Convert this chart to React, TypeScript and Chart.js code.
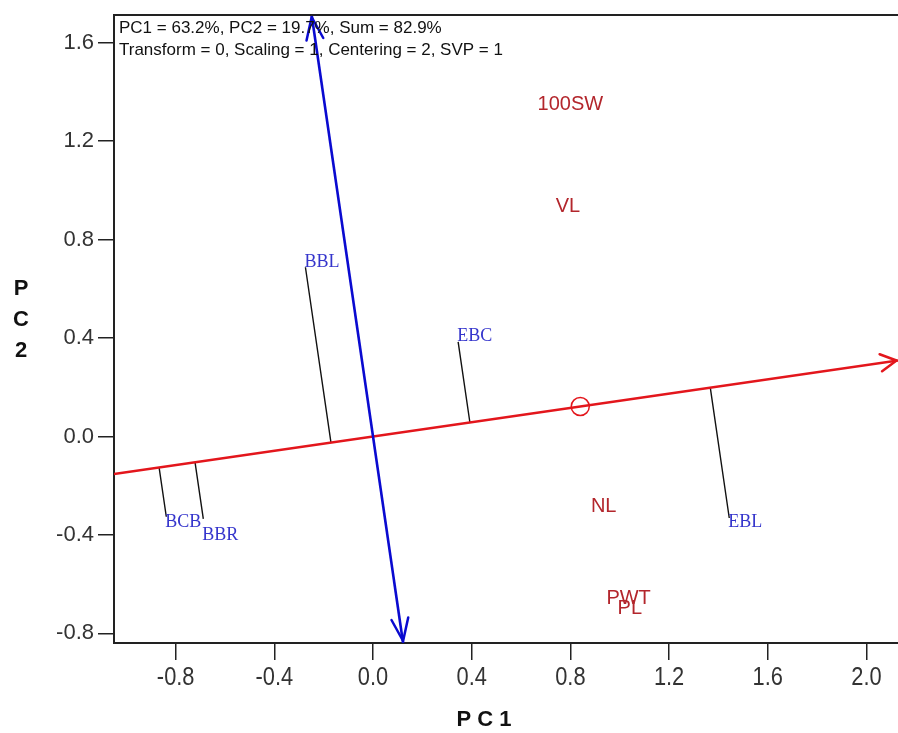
import React, { useEffect, useRef } from 'react';
import { Chart, registerables } from 'chart.js';

Chart.register(...registerables);

// ---------- data ----------
const traitNames = ['100SW', 'VL', 'NL', 'PWT', 'PL'];
const traitPC1 = [0.8, 0.79, 0.935, 1.036, 1.041];
const traitPC2 = [1.351, 0.933, -0.283, -0.657, -0.698];

const envNames = ['BBL', 'EBC', 'BCB', 'BBR', 'EBL'];
const envPC1 = [-0.274, 0.345, -0.838, -0.688, 1.444];
const envPC2 = [0.688, 0.385, -0.326, -0.335, -0.331];

// average-environment coordinate (small circle on the ATC axis)
const avgPC1 = 0.84;
const avgPC2 = 0.122;

const xTicks = [-0.8, -0.4, 0, 0.4, 0.8, 1.2, 1.6, 2.0];
const xTickLabels = ['-0.8', '-0.4', '0.0', '0.4', '0.8', '1.2', '1.6', '2.0'];
const yTicks = [-0.8, -0.4, 0, 0.4, 0.8, 1.2, 1.6];
const yTickLabels = ['-0.8', '-0.4', '0.0', '0.4', '0.8', '1.2', '1.6'];

const xAxisTitle = 'P C 1';
const yAxisTitle = ['P', 'C', '2'];
const infoLines = [
  'PC1 = 63.2%, PC2 = 19.7%, Sum = 82.9%',
  'Transform = 0, Scaling = 1, Centering = 2, SVP = 1',
];

// ---------- layout / style ----------
const X_MIN = -1.05;
const X_MAX = 2.128;
const Y_MIN = -0.839;
const Y_MAX = 1.713;
const W = 898;
const H = 733;

const RED = '#e3161c';
const BLUE = '#0a0ad0';
const TRAIT_COLOR = '#b3262c';
const ENV_COLOR = '#3535cc';
const envLabelDy = [-5, -6, 6, 16, 4];

function drawArrowHead(ctx: CanvasRenderingContext2D, tipX: number, tipY: number, dirX: number, dirY: number, len: number, angle: number, color: string) {
  const n = Math.hypot(dirX, dirY);
  const ux = dirX / n;
  const uy = dirY / n;
  ctx.save();
  ctx.strokeStyle = color;
  ctx.lineWidth = 2.5;
  ctx.lineCap = 'round';
  ctx.beginPath();
  for (const s of [-1, 1]) {
    const a = s * angle;
    const bx = -ux * Math.cos(a) + uy * Math.sin(a);
    const by = -uy * Math.cos(a) - ux * Math.sin(a);
    ctx.moveTo(tipX, tipY);
    ctx.lineTo(tipX + bx * len, tipY + by * len);
  }
  ctx.stroke();
  ctx.restore();
}

const overlayPlugin = {
  id: 'gge-overlay',
  afterDatasetsDraw(chart: any) {
    const ctx: CanvasRenderingContext2D = chart.ctx;
    const xs = chart.scales.x;
    const ys = chart.scales.y;
    const area = chart.chartArea;

    // top border
    ctx.save();
    ctx.strokeStyle = '#222';
    ctx.lineWidth = 2;
    ctx.beginPath();
    ctx.moveTo(area.left - 1, area.top);
    ctx.lineTo(area.right, area.top);
    ctx.stroke();
    ctx.restore();

    // arrowheads
    const slope = avgPC2 / avgPC1;
    const rx0 = xs.getPixelForValue(X_MIN);
    const ry0 = ys.getPixelForValue(slope * X_MIN);
    const rx1 = xs.getPixelForValue(X_MAX) - 1.5;
    const ry1 = ys.getPixelForValue(slope * X_MAX);
    drawArrowHead(ctx, rx1, ry1, rx1 - rx0, ry1 - ry0, 18, 0.5, RED);

    const k = -avgPC2 / avgPC1;
    const bxTop = xs.getPixelForValue(k * Y_MAX);
    const byTop = ys.getPixelForValue(Y_MAX);
    const bxBot = xs.getPixelForValue(k * Y_MIN);
    const byBot = ys.getPixelForValue(Y_MIN);
    drawArrowHead(ctx, bxTop, byTop + 2, bxTop - bxBot, byTop - byBot, 24, 0.36, BLUE);
    drawArrowHead(ctx, bxBot, byBot - 2, bxBot - bxTop, byBot - byTop, 24, 0.36, BLUE);

    // trait labels
    ctx.save();
    ctx.fillStyle = TRAIT_COLOR;
    ctx.font = '20px "Liberation Sans", Arial, sans-serif';
    ctx.textAlign = 'center';
    ctx.textBaseline = 'middle';
    traitNames.forEach((name, i) => {
      ctx.fillText(name, xs.getPixelForValue(traitPC1[i]), ys.getPixelForValue(traitPC2[i]));
    });
    ctx.restore();

    // environment labels
    ctx.save();
    ctx.fillStyle = ENV_COLOR;
    ctx.font = '18px "Liberation Serif", "Times New Roman", serif';
    ctx.textAlign = 'left';
    ctx.textBaseline = 'middle';
    envNames.forEach((name, i) => {
      ctx.fillText(name, xs.getPixelForValue(envPC1[i]) - 1, ys.getPixelForValue(envPC2[i]) + envLabelDy[i]);
    });
    ctx.restore();

    // info text
    ctx.save();
    ctx.fillStyle = '#111';
    ctx.font = '17px "Liberation Sans", Arial, sans-serif';
    ctx.textAlign = 'left';
    ctx.textBaseline = 'middle';
    infoLines.forEach((t, i) => ctx.fillText(t, area.left + 5, area.top + 13 + i * 22));
    ctx.restore();
  },
  afterDraw(chart: any) {
    const ctx: CanvasRenderingContext2D = chart.ctx;
    const area = chart.chartArea;
    const xs = chart.scales.x;

    // x tick labels (condensed)
    ctx.save();
    ctx.fillStyle = '#333';
    ctx.font = '26px "Liberation Sans", Arial, sans-serif';
    ctx.textAlign = 'center';
    ctx.textBaseline = 'middle';
    xTicks.forEach((v, i) => {
      const px = xs.getPixelForValue(v);
      ctx.save();
      ctx.translate(px, area.bottom + 35);
      ctx.scale(0.84, 1);
      ctx.fillText(xTickLabels[i], 0, 0);
      ctx.restore();
    });
    ctx.restore();

    // axis titles
    ctx.save();
    ctx.fillStyle = '#111';
    ctx.font = 'bold 22px "Liberation Sans", Arial, sans-serif';
    ctx.textAlign = 'center';
    ctx.textBaseline = 'middle';
    ctx.fillText(xAxisTitle, (area.left + area.right) / 2 - 22, 720);
    yAxisTitle.forEach((t, i) => ctx.fillText(t, 21, 289 + i * 31));
    ctx.restore();
  },
};

export default function App() {
  const canvasRef = useRef<HTMLCanvasElement | null>(null);

  useEffect(() => {
    const canvas = canvasRef.current;
    if (!canvas) return;

    const slope = avgPC2 / avgPC1;
    const k = -avgPC2 / avgPC1;
    const dd = avgPC1 * avgPC1 + avgPC2 * avgPC2;

    const projections: any[] = [];
    envPC1.forEach((x, i) => {
      const y = envPC2[i];
      const t = (x * avgPC1 + y * avgPC2) / dd;
      projections.push({ x, y });
      projections.push({ x: t * avgPC1, y: t * avgPC2 });
      projections.push({ x: null, y: null });
    });

    const tickFontY = { family: '"Liberation Sans", Arial, sans-serif', size: 22 };

    const chart = new Chart(canvas, {
      type: 'scatter',
      data: {
        datasets: [
          {
            label: 'avg',
            data: [{ x: avgPC1, y: avgPC2 }],
            pointRadius: 9,
            pointBorderWidth: 1.5,
            pointBorderColor: RED,
            pointBackgroundColor: 'rgba(0,0,0,0)',
            showLine: false,
          },
          {
            label: 'ATC ordinate',
            data: [
              { x: k * Y_MIN, y: Y_MIN },
              { x: k * Y_MAX, y: Y_MAX },
            ],
            showLine: true,
            borderColor: BLUE,
            borderWidth: 2.6,
            pointRadius: 0,
          },
          {
            label: 'ATC abscissa',
            data: [
              { x: X_MIN, y: slope * X_MIN },
              { x: X_MAX, y: slope * X_MAX },
            ],
            showLine: true,
            borderColor: RED,
            borderWidth: 2.6,
            pointRadius: 0,
          },
          {
            label: 'projections',
            data: projections,
            showLine: true,
            spanGaps: false,
            borderColor: '#111',
            borderWidth: 1.4,
            pointRadius: 0,
          },
          {
            label: 'traits',
            data: traitPC1.map((x, i) => ({ x, y: traitPC2[i] })),
            pointRadius: 0,
          },
          {
            label: 'envs',
            data: envPC1.map((x, i) => ({ x, y: envPC2[i] })),
            pointRadius: 0,
          },
        ],
      },
      options: {
        animation: false,
        responsive: false,
        maintainAspectRatio: false,
        layout: { autoPadding: false, padding: { top: 15, right: 0, bottom: 0, left: 0 } },
        plugins: {
          legend: { display: false },
          tooltip: { enabled: false },
        },
        scales: {
          x: {
            type: 'linear',
            min: X_MIN,
            max: X_MAX,
            afterBuildTicks: (s: any) => {
              s.ticks = xTicks.map((v) => ({ value: v }));
            },
            afterFit: (s: any) => {
              s.height = 90;
              s.paddingLeft = 0;
              s.paddingRight = 0;
            },
            ticks: {
              display: false,
              autoSkip: false,
              maxRotation: 0,
            },
            grid: { drawOnChartArea: false, drawTicks: true, tickLength: 17, color: '#222', lineWidth: 1.5 },
            border: { display: true, color: '#222', width: 2 },
          },
          y: {
            type: 'linear',
            min: Y_MIN,
            max: Y_MAX,
            afterBuildTicks: (s: any) => {
              s.ticks = yTicks.map((v) => ({ value: v }));
            },
            afterFit: (s: any) => {
              s.width = 114;
              s.paddingTop = 0;
              s.paddingBottom = 0;
            },
            ticks: {
              autoSkip: false,
              padding: 4,
              color: '#333',
              font: tickFontY,
              callback: (_v: any, i: number) => yTickLabels[i],
            },
            grid: { drawOnChartArea: false, drawTicks: true, tickLength: 16, color: '#222', lineWidth: 1.5 },
            border: { display: true, color: '#222', width: 2 },
          },
        },
      } as any,
      plugins: [overlayPlugin],
    });

    return () => chart.destroy();
  }, []);

  return (
    <div style={{ position: 'fixed', left: 0, top: 0, width: W, height: H, overflow: 'hidden', background: '#fff' }}>
      <canvas ref={canvasRef} width={W} height={H} style={{ display: 'block', width: W, height: H }} />
    </div>
  );
}
